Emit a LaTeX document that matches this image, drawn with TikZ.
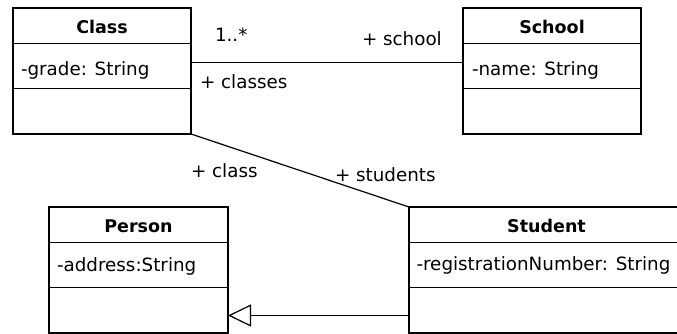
\documentclass[tikz,border=0pt]{standalone}
\usepackage{fontspec}
\setmainfont{DejaVu Sans}
\usetikzlibrary{arrows.meta}
\begin{document}
\begin{tikzpicture}[x=1pt,y=-1pt,
  line width=1.2pt,
  every node/.style={inner sep=0pt, outer sep=0pt, font=\fontsize{18.3}{21}\selectfont},
  umlbox/.style={draw, minimum width=#1, minimum height=126pt, line width=1.2pt},
  title/.style={anchor=base, font=\fontsize{17.5}{20}\selectfont\bfseries},
  attr/.style={anchor=base west},
  role/.style={anchor=base west},
  inherit/.style={-{Triangle[open, length=23pt, width=22pt, line width=1.2pt]}}
]
\useasboundingbox (0,0) rectangle (677,334);

% class boxes (outer frames)
\node[umlbox=178pt] (class)   at (102,71)    {};
\node[umlbox=178pt] (school)  at (552,71)    {};
\node[umlbox=179pt] (person)  at (138.5,270) {};
\node[umlbox=275pt] (student) at (546.5,270) {};

% compartment separators
\foreach \b in {class,school,person,student}{
  \draw (\b.north west) ++(0,35.5) coordinate (\b-a) -- (\b-a -| \b.east);
  \draw (\b.north west) ++(0,80.5) coordinate (\b-b) -- (\b-b -| \b.east);
}

% names and attributes
\node[title] (classname)   at (102,34)    {Class};
\node[attr]  (classattr)   at (21,75.5)   {-grade: String};
\node[title] (schoolname)  at (552,34)    {School};
\node[attr]  (schoolattr)  at (472,75.5)  {-name: String};
\node[title] (personname)  at (138.5,232.5) {Person};
\node[attr]  (personattr)  at (57,271)    {-address:String};
\node[title] (studentname) at (546.5,232.5) {Student};
\node[attr]  (studentattr) at (416.5,270.5) {-registrationNumber: String};

% association Class -- School
\draw (class.east |- 0,62.5) -- (school.west |- 0,62.5);
\node[role] (mult)    at (215,42)  {1..*};
\node[role] (rschool) at (362,46)  {+ school};
\node[role] (rclasses) at (200,89) {+ classes};

% association Class -- Student
\draw (class.south east) -- (student.north west);
\node[role] (rclass)    at (191,177) {+ class};
\node[role] (rstudents) at (335,181) {+ students};

% generalization Student -> Person
\draw[inherit] (student.west |- 0,315.5) -- (person.east |- 0,315.5);
\end{tikzpicture}
\end{document}
